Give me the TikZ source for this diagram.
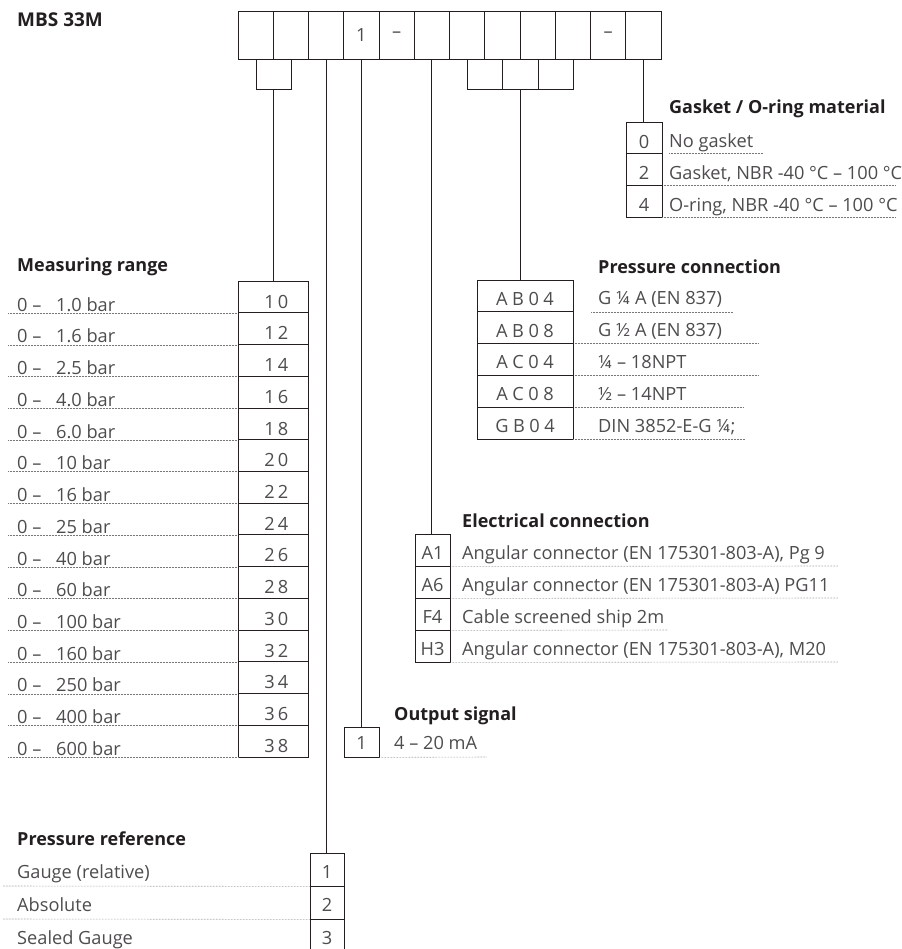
\documentclass[tikz,border=0pt]{standalone}
\usepackage{fontspec}
\setmainfont{Open Sans}
\usetikzlibrary{positioning}
\definecolor{ink}{RGB}{35,31,32}
\definecolor{txt}{RGB}{78,76,78}
\definecolor{dots}{RGB}{120,120,120}

\begin{document}
\begin{tikzpicture}[x=1pt, y=-1pt, font=\fontsize{18.2}{22}\selectfont,
  codecell/.style={draw=ink, line width=0.8pt, inner sep=0pt, text=txt},
  rowtxt/.style={anchor=base west, inner sep=0pt, text=txt},
  headtxt/.style={anchor=base west, inner sep=0pt, text=ink,
                  font=\fontsize{18}{21}\selectfont\bfseries},
  leader/.style={draw=dots, line width=0.6pt, dash pattern=on 0.5pt off 1pt},
  link/.style={draw=ink, line width=0.8pt}]
  \useasboundingbox (0,0) rectangle (901,949);

  \node[headtxt, font=\fontsize{19}{22}\selectfont\bfseries] (title) at (17,27) {MBS 33M};
  % code boxes along the top
  \foreach \i/\lab in {1/{},2/{},3/{},4/1,5/–,6/{},7/{},8/{},9/{},10/{},11/–,12/{}}
    \node[codecell, minimum width=35.25pt, minimum height=48pt]
      (t\i) at ({238+(\i-0.5)*35.25},35) {\lab};
  \node[codecell, minimum width=35.25pt, minimum height=30pt, anchor=north]
    (s1) at (t1.south east) {};
  \foreach \i/\j in {1/7, 2/8, 3/9}
    \node[codecell, minimum width=35.25pt, minimum height=30pt, anchor=north]
      (p\i) at (t\j.south east) {};

  % gasket / o-ring
  \node[headtxt] (ghead) at (669,114) {Gasket / O-ring material};
  \foreach \i/\code/\desc/\from/\to in {1/0/No gasket/669/763,
      2/2/{Gasket, NBR -40 °C – 100 °C}/662/895,
      3/4/{O-ring, NBR -40 °C – 100 °C}/662/895} {
    \node[codecell, minimum width=36pt, minimum height=31.7pt]
      (g\i) at (644,{122+(\i-0.5)*31.7}) {};
    \node[rowtxt, anchor=base] (gc\i) at ([yshift=6pt]g\i.south) {\code};
    \node[rowtxt] (gd\i) at (669,{122+\i*31.7-6}) {\desc};
    \draw[leader] (\from,{122+\i*31.7}) -- (\to,{122+\i*31.7});
  }

  % measuring range
  \node[headtxt] (mhead) at (17,272) {Measuring range};
  \foreach \i/\val/\code in {1/1.0/1\,0, 2/1.6/1\,2, 3/2.5/1\,4, 4/4.0/1\,6,
      5/6.0/1\,8, 6/10/2\,0, 7/16/2\,2, 8/25/2\,4, 9/40/2\,6, 10/60/2\,8,
      11/100/3\,0, 12/160/3\,2, 13/250/3\,4, 14/400/3\,6, 15/600/3\,8} {
    \node[codecell, minimum width=70pt, minimum height=31.73pt]
      (m\i) at (273.25,{281+(\i-0.5)*31.73}) {};
    \node[rowtxt, anchor=base] (mc\i) at ([xshift=3pt, yshift=5pt]m\i.south) {\code};
    \node[rowtxt] (mv\i) at (17,{281+\i*31.73-1.5})
      {\makebox[39pt][l]{0 –}\val\ bar};
    \draw[leader] ([xshift=-9pt]mv\i.west |- m\i.south) -- (m\i.south west);
  }

  % pressure connection
  \node[headtxt] (chead) at (598,273) {Pressure connection};
  \foreach \i/\code/\desc/\from/\to in {1/A\hspace{4.5pt}B\hspace{4.5pt}0\hspace{4.5pt}4/G ¼ A (EN 837)/591/733,
      2/A\hspace{4.5pt}B\hspace{4.5pt}0\hspace{4.5pt}8/G ½ A (EN 837)/573/758,
      3/A\hspace{4.5pt}C\hspace{4.5pt}0\hspace{4.5pt}4/¼ – 18NPT/573/758,
      4/A\hspace{4.5pt}C\hspace{4.5pt}0\hspace{4.5pt}8/½ – 14NPT/573/743,
      5/G\hspace{4.5pt}B\hspace{4.5pt}0\hspace{4.5pt}4/DIN 3852-E-G ¼;/573/745} {
    \node[codecell, minimum width=96pt, minimum height=31.8pt]
      (c\i) at (525,{280+(\i-0.5)*31.8}) {};
    \node[rowtxt, anchor=base] (cc\i) at ([yshift=7pt]c\i.south) {\code};
    \node[rowtxt] (cd\i) at (598,{280+\i*31.8-7}) {\desc};
    \draw[leader] (\from,{280+\i*31.8}) -- (\to,{280+\i*31.8});
  }

  % electrical connection
  \node[headtxt] (ehead) at (462,527) {Electrical connection};
  \foreach \i/\code/\desc/\to in {1/A1/{Angular connector (EN 175301-803-A), Pg 9}/838,
      2/A6/Angular connector (EN 175301-803-A) PG11/838,
      3/F4/Cable screened ship 2m/668,
      4/H3/{Angular connector (EN 175301-803-A), M20}/838} {
    \node[codecell, minimum width=35pt, minimum height=32pt]
      (e\i) at (432.5,{534+(\i-0.5)*32}) {};
    \node[rowtxt, anchor=base] (ec\i) at ([yshift=7pt]e\i.south) {\code};
    \node[rowtxt] (ed\i) at (462,{534+\i*32-7}) {\desc};
    \draw[leader] (e\i.south east) -- (\to,{534+\i*32});
  }

  % output signal
  \node[headtxt] (ohead) at (394,720) {Output signal};
  \node[codecell, minimum width=35pt, minimum height=30pt] (o1) at (361.5,742) {};
  \node[rowtxt, anchor=base] (oc1) at ([yshift=8pt]o1.south) {1};
  \node[rowtxt] (od1) at (394,749) {4 – 20 mA};
  \draw[leader] (o1.south east) -- (487,757);

  % pressure reference
  \node[headtxt] (rhead) at (17,845) {Pressure reference};
  \foreach \i/\desc in {1/Gauge (relative), 2/Absolute, 3/Sealed Gauge} {
    \node[codecell, minimum width=34pt, minimum height=33pt]
      (r\i) at (327,{853+(\i-0.5)*33}) {};
    \node[rowtxt, anchor=base] (rc\i) at ([yshift=8pt]r\i.south) {\i};
    \node[rowtxt] (rd\i) at (17,{853+\i*33-8}) {\desc};
  }
  \foreach \i in {1,2}
    \draw[leader] (3,{853+\i*33}) -- (r\i.south west);

  % links from the code boxes
  \draw[link] (s1.south) -- (s1.south |- m1.north);
  \draw[link] (t3.south) -- (t3.south |- r1.north);
  \draw[link] (t4.south) -- (t4.south |- o1.north);
  \draw[link] (t6.south) -- (t6.south |- e1.north);
  \draw[link] (p2.south) -- (p2.south |- c1.north);
  \draw[link] (t12.south) -- (t12.south |- g1.north);
\end{tikzpicture}
\end{document}
